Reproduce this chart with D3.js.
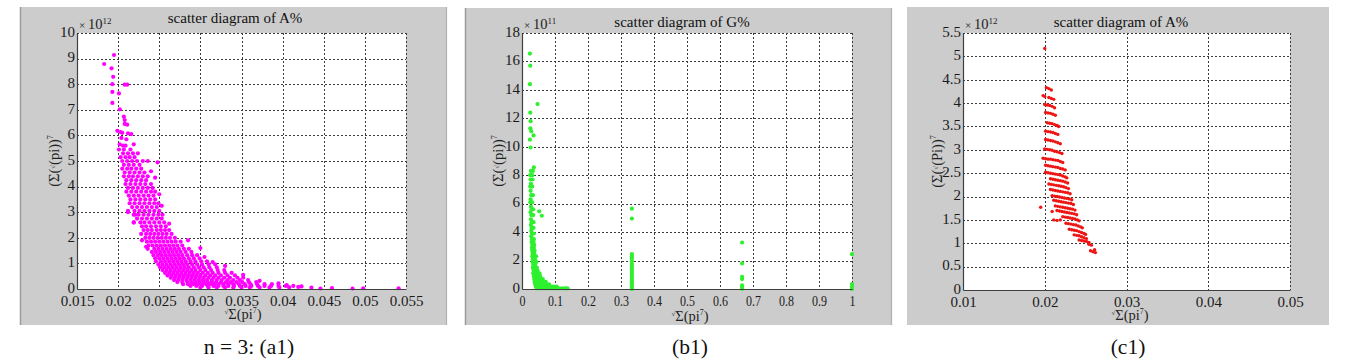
<!DOCTYPE html>
<html><head><meta charset="utf-8">
<script src="https://cdn.jsdelivr.net/npm/d3@7"></script>
<style>
body{margin:0;background:#fff}
svg{display:block}
svg text{font-family:"Liberation Serif","Times New Roman","DejaVu Serif",serif !important}
</style>
</head><body>
<svg id="c" width="1361" height="364"></svg>
<script>
// ---------------- DATA ----------------
// Panel (a1): scatter diagram of A%  (y in units of 10^12)
const a1Title = "scatter diagram of A%";
const a1XTicks = [0.015,0.02,0.025,0.03,0.035,0.04,0.045,0.05,0.055];
const a1XLabels = ["0.015","0.02","0.025","0.03","0.035","0.04","0.045","0.05","0.055"];
const a1YTicks = [0,1,2,3,4,5,6,7,8,9,10];
const a1YLabels = ["0","1","2","3","4","5","6","7","8","9","10"];
const a1Exp = "12";
const a1Extra = [
 [0.0183,8.79],[0.0195,9.14],[0.0192,8.62],[0.0194,8.29],[0.0193,8.0],[0.0208,7.98],[0.0211,7.98],
 [0.0193,7.7],[0.0201,7.64],[0.0193,7.27],[0.0202,7.02],[0.0207,6.73],[0.0208,6.6],[0.0208,6.45],
 [0.0211,6.42],[0.0199,6.18],[0.0203,6.13],[0.0205,6.1],[0.0212,6.08],[0.0216,6.05],[0.0204,5.9],
 [0.0210,5.85],[0.0202,5.65],[0.0206,5.6],[0.0209,5.6],[0.0219,5.65],
 [0.0212,3.0],[0.0219,2.6],[0.0234,1.65],[0.0229,1.9],[0.0262,2.55],[0.0285,1.9],[0.0305,1.25],
 [0.0248,4.95],[0.0240,4.6],[0.0245,4.35],[0.0250,3.7],[0.0253,3.25],[0.0221,2.9],
 [0.0300,1.6],[0.0315,1.05],[0.0330,0.9],[0.0352,0.55],[0.0372,0.32],[0.0395,0.22],[0.0405,0.15],
 [0.0419,0.08],[0.0423,0.10],[0.0435,0.05],[0.0446,0.02],[0.0460,0.04],[0.0485,0.02],[0.0498,0.03],[0.0541,0.03]
];
// rows: [y, x1, x2, ...]
const a1Rows = [
 [5.45,0.0201,0.0207,0.0215],
 [5.3,0.0206,0.0212,0.0218,0.0224],
 [5.15,0.0203,0.0209,0.0214,0.0220],
 [5.0,0.0205,0.0211,0.0217,0.0223,0.0230,0.0236],
 [4.85,0.0207,0.0213,0.0219,0.0226],
 [4.7,0.0205,0.0211,0.0216,0.0222,0.0228],
 [4.55,0.0208,0.0214,0.0220,0.0226,0.0232],
 [4.4,0.0207,0.0213,0.0218,0.0224,0.0230,0.0236],
 [4.25,0.0210,0.0216,0.0222,0.0228,0.0234],
 [4.1,0.0209,0.0215,0.0221,0.0227,0.0233,0.0240],
 [3.95,0.0212,0.0218,0.0224,0.0230,0.0236,0.0242],
 [3.8,0.0210,0.0216,0.0222,0.0228,0.0234,0.0240,0.0245],
 [3.65,0.0213,0.0219,0.0225,0.0231,0.0237,0.0243],
 [3.5,0.0215,0.0221,0.0227,0.0233,0.0239,0.0245],
 [3.35,0.0214,0.0220,0.0226,0.0232,0.0238,0.0244,0.0249],
 [3.2,0.0217,0.0223,0.0229,0.0235,0.0241,0.0247],
 [3.05,0.0212,0.0220,0.0226,0.0232,0.0238,0.0244,0.0250],
 [2.9,0.0219,0.0225,0.0231,0.0237,0.0243,0.0249,0.0254],
 [2.75,0.0223,0.0229,0.0235,0.0241,0.0247,0.0253],
 [2.6,0.0219,0.0227,0.0232,0.0238,0.0244,0.0250,0.0256],
 [2.45,0.0229,0.0234,0.0240,0.0246,0.0252,0.0258],
 [2.3,0.0231,0.0236,0.0241,0.0247,0.0252,0.0257,0.0262],
 [2.15,0.0228,0.0234,0.0239,0.0244,0.0249,0.0254,0.0259,0.0265],
 [2.0,0.0233,0.0238,0.0243,0.0248,0.0253,0.0258,0.0263,0.0269],
 [1.85,0.0235,0.0240,0.0245,0.0250,0.0255,0.0260,0.0265,0.0270,0.0276],
 [1.7,0.0237,0.0242,0.0247,0.0252,0.0257,0.0262,0.0267,0.0272,0.0278],
 [1.57,0.0236,0.0244,0.0249,0.0254,0.0259,0.0264,0.0269,0.0274,0.0280,0.0286],
 [1.45,0.0241,0.0246,0.0251,0.0256,0.0261,0.0266,0.0271,0.0276,0.0282,0.0289],
 [1.32,0.0243,0.0248,0.0253,0.0258,0.0263,0.0268,0.0273,0.0278,0.0284,0.0290,0.0296],
 [1.2,0.0245,0.0250,0.0255,0.0260,0.0265,0.0270,0.0275,0.0280,0.0286,0.0292,0.0299],
 [1.08,0.0246,0.0252,0.0257,0.0262,0.0267,0.0272,0.0277,0.0282,0.0288,0.0294,0.0301,0.0308],
 [0.96,0.0249,0.0254,0.0259,0.0264,0.0269,0.0274,0.0279,0.0284,0.0290,0.0296,0.0302,0.0310,0.0318],
 [0.85,0.0251,0.0256,0.0261,0.0266,0.0271,0.0276,0.0281,0.0286,0.0292,0.0298,0.0304,0.0311,0.0320],
 [0.74,0.0254,0.0259,0.0264,0.0269,0.0274,0.0279,0.0284,0.0289,0.0294,0.0300,0.0306,0.0313,0.0321,0.0329],
 [0.63,0.0257,0.0262,0.0267,0.0272,0.0277,0.0282,0.0287,0.0292,0.0297,0.0303,0.0309,0.0315,0.0322,0.0330,0.0338],
 [0.53,0.0260,0.0265,0.0270,0.0275,0.0280,0.0285,0.0290,0.0295,0.0300,0.0306,0.0312,0.0318,0.0325,0.0333,0.0342],
 [0.44,0.0264,0.0269,0.0274,0.0279,0.0284,0.0289,0.0294,0.0299,0.0304,0.0310,0.0316,0.0322,0.0329,0.0336,0.0345,0.0352],
 [0.35,0.0268,0.0273,0.0278,0.0283,0.0288,0.0293,0.0298,0.0303,0.0308,0.0314,0.0320,0.0326,0.0333,0.0340,0.0348,0.0358],
 [0.27,0.0272,0.0278,0.0284,0.0289,0.0294,0.0299,0.0304,0.0309,0.0314,0.0319,0.0325,0.0331,0.0337,0.0344,0.0351,0.0359,0.0368],
 [0.19,0.0279,0.0285,0.0291,0.0297,0.0302,0.0307,0.0312,0.0317,0.0322,0.0328,0.0334,0.0340,0.0347,0.0354,0.0361,0.0369,0.0378,0.0387],
 [0.12,0.0288,0.0295,0.0302,0.0309,0.0316,0.0322,0.0328,0.0334,0.0341,0.0348,0.0355,0.0362,0.0370,0.0378,0.0386,0.0395,0.0404,0.0413],
 [0.06,0.0300,0.0310,0.0320,0.0330,0.0340,0.0350,0.0360,0.0372,0.0384,0.0396,0.0408]
];

// Panel (b1): scatter diagram of G%  (y in units of 10^11)
const b1Title = "scatter diagram of G%";
const b1XTicks = [0,0.1,0.2,0.3,0.4,0.5,0.6,0.7,0.8,0.9,1];
const b1XLabels = ["0","0.1","0.2","0.3","0.4","0.5","0.6","0.7","0.8","0.9","1"];
const b1YTicks = [0,2,4,6,8,10,12,14,16,18];
const b1YLabels = ["0","2","4","6","8","10","12","14","16","18"];
const b1Exp = "11";
const b1Extra = [
 [0.024,16.55],[0.025,15.7],[0.024,14.4],[0.047,13.0],[0.025,12.4],[0.026,11.8],[0.025,11.3],
 [0.028,11.1],[0.035,10.8],[0.024,10.5],[0.026,9.95],[0.036,8.55],[0.052,5.46],[0.060,5.15],[0.050,1.0],
 [0.333,5.65],[0.333,4.95],[0.333,2.45],[0.333,2.3],[0.333,2.15],[0.333,1.95],[0.333,1.75],[0.333,1.6],
 [0.333,1.45],[0.333,1.3],[0.333,1.15],[0.333,1.0],[0.333,0.85],[0.333,0.7],[0.333,0.55],[0.333,0.4],
 [0.333,0.25],[0.333,0.1],[0.333,0.0],
 [0.667,3.27],[0.667,1.8],[0.667,0.85],[0.667,0.7],[0.667,0.25],[0.667,0.1],[0.667,0.0],
 [1,2.45],[1,0.35],[1,0.15],[1,0.0]
];
const b1Rows = [
 [8.3,0.027,0.033],[8.0,0.025,0.031],[7.7,0.026,0.032],[7.4,0.027],[7.2,0.025,0.031],[6.9,0.026],
 [6.6,0.028,0.033],[6.3,0.026],[6.1,0.025,0.031],[5.8,0.027],[5.6,0.029,0.034],[5.4,0.026],
 [5.2,0.028,0.034],[4.9,0.027],[4.7,0.029,0.035],[4.5,0.027],[4.3,0.029,0.035],[4.1,0.028],
 [3.9,0.030,0.036],[3.7,0.028],[3.5,0.030,0.036],[3.3,0.029,0.035],[3.1,0.031,0.037],[2.9,0.030,0.036],
 [2.7,0.031,0.038],[2.5,0.032,0.037],[2.3,0.031,0.038,0.043],[2.1,0.033,0.039],[1.9,0.032,0.038,0.044],
 [1.7,0.034,0.040],[1.5,0.033,0.039,0.045],[1.3,0.035,0.041,0.047],[1.1,0.034,0.040,0.046,0.053],
 [0.9,0.036,0.042,0.048,0.055],[0.7,0.037,0.043,0.049,0.056,0.063],
 [0.5,0.038,0.044,0.050,0.057,0.064,0.072],
 [0.32,0.040,0.046,0.052,0.059,0.066,0.074,0.082],
 [0.17,0.042,0.048,0.055,0.062,0.070,0.078,0.087,0.096,0.105],
 [0.05,0.045,0.052,0.060,0.068,0.077,0.086,0.095,0.104,0.113,0.122,0.131,0.138]
];

// Panel (c1): scatter diagram of A%  (y in units of 10^12)
const c1Title = "scatter diagram of A%";
const c1XTicks = [0.01,0.02,0.03,0.04,0.05];
const c1XLabels = ["0.01","0.02","0.03","0.04","0.05"];
const c1YTicks = [0,0.5,1,1.5,2,2.5,3,3.5,4,4.5,5,5.5];
const c1YLabels = ["0","0.5","1","1.5","2","2.5","3","3.5","4","4.5","5","5.5"];
const c1Exp = "12";
const c1Points = [
 [0.0200,5.17],[0.0195,1.77],[0.0209,1.68],
 [0.0202,4.33],[0.0205,4.31],[0.0208,4.28],
 [0.0198,4.16],[0.0200,4.14],[0.0205,4.12],[0.0208,4.1],[0.0211,4.08],
 [0.0200,3.97],[0.0203,3.96],[0.0206,3.95],[0.0209,3.93],[0.0212,3.9],
 [0.0201,3.8],[0.0204,3.79],[0.0207,3.78],[0.0210,3.76],[0.0213,3.74],
 [0.0203,3.58],[0.0206,3.57],[0.0209,3.56],[0.0212,3.54],[0.0215,3.52],[0.0217,3.5],
 [0.0201,3.4],[0.0204,3.39],[0.0207,3.38],[0.0210,3.37],[0.0213,3.35],[0.0216,3.33],
 [0.0201,3.22],[0.0204,3.21],[0.0207,3.2],[0.0210,3.19],[0.0213,3.17],[0.0216,3.15],[0.0219,3.13],
 [0.0200,3.02],[0.0203,3.01],[0.0206,3.0],[0.0209,2.99],[0.0212,2.97],[0.0215,2.96],[0.0218,2.94],[0.0221,2.92],
 [0.0198,2.82],[0.0201,2.81],[0.0204,2.8],[0.0207,2.8],[0.0210,2.79],[0.0213,2.78],[0.0216,2.77],[0.0219,2.75],[0.0222,2.73],
 [0.0201,2.67],[0.0204,2.66],[0.0207,2.65],[0.0210,2.64],[0.0213,2.63],[0.0216,2.62],[0.0219,2.6],[0.0222,2.59],[0.0225,2.57],
 [0.0201,2.52],[0.0204,2.51],[0.0207,2.5],[0.0210,2.49],[0.0213,2.48],[0.0216,2.47],[0.0219,2.46],[0.0222,2.44],[0.0225,2.42],[0.0227,2.4],
 [0.0207,2.38],[0.0210,2.37],[0.0213,2.36],[0.0216,2.35],[0.0219,2.34],[0.0222,2.33],[0.0225,2.31],[0.0228,2.29],
 [0.0205,2.27],[0.0208,2.26],[0.0211,2.25],[0.0214,2.24],[0.0217,2.23],[0.0220,2.22],[0.0223,2.21],[0.0226,2.19],[0.0229,2.17],
 [0.0207,2.15],[0.0210,2.14],[0.0213,2.13],[0.0216,2.12],[0.0219,2.11],[0.0222,2.1],[0.0225,2.09],[0.0228,2.08],[0.0231,2.06],
 [0.0209,2.02],[0.0212,2.01],[0.0215,2.0],[0.0218,1.99],[0.0221,1.98],[0.0224,1.97],[0.0227,1.96],[0.0230,1.95],[0.0233,1.93],
 [0.0211,1.92],[0.0214,1.91],[0.0217,1.9],[0.0220,1.89],[0.0223,1.88],[0.0226,1.87],[0.0229,1.86],[0.0232,1.85],[0.0235,1.83],
 [0.0213,1.8],[0.0216,1.79],[0.0219,1.78],[0.0222,1.77],[0.0225,1.76],[0.0228,1.75],[0.0231,1.74],[0.0234,1.73],[0.0237,1.71],
 [0.0215,1.7],[0.0218,1.69],[0.0221,1.68],[0.0224,1.67],[0.0227,1.66],[0.0230,1.65],[0.0233,1.64],[0.0236,1.63],[0.0239,1.61],
 [0.0211,1.5],[0.0215,1.49],[0.0219,1.5],[0.0222,1.57],[0.0225,1.56],[0.0228,1.55],[0.0231,1.54],[0.0234,1.53],[0.0237,1.52],[0.0240,1.5],[0.0242,1.48],
 [0.0226,1.43],[0.0229,1.42],[0.0232,1.41],[0.0235,1.4],[0.0238,1.39],[0.0241,1.37],[0.0244,1.35],[0.0246,1.33],
 [0.0230,1.3],[0.0233,1.29],[0.0236,1.28],[0.0239,1.27],[0.0242,1.25],[0.0245,1.23],[0.0248,1.21],[0.0250,1.19],
 [0.0236,1.18],[0.0239,1.17],[0.0242,1.16],[0.0245,1.14],[0.0248,1.12],[0.0251,1.1],
 [0.0242,1.07],[0.0245,1.06],[0.0248,1.05],[0.0251,1.04],[0.0254,1.02],
 [0.0254,0.98],[0.0257,0.96],
 [0.0256,0.84],[0.0259,0.82],[0.0261,0.86],[0.0262,0.8]
];

const captions = ["n = 3: (a1)", "(b1)", "(c1)"];

// ---------------- DRAWING ----------------
const svg = d3.select("#c");
const flatRows = rows => rows.flatMap(r => r.slice(1).map(v => [v, r[0]]));

function txt(sel, size) {
  return sel.style("font-family", "'Liberation Serif', 'DejaVu Serif', serif").style("font-size", size + "px");
}

function drawPanel(p) {
  const g = svg.append("g");
  const [bl, bt, br, bb] = p.bg;
  g.append("rect").attr("x", bl).attr("y", bt).attr("width", br - bl).attr("height", bb - bt).attr("fill", "#cccccc");
  if (p.edges) {
    g.append("line").attr("x1", bl + 0.5).attr("x2", bl + 0.5).attr("y1", bt).attr("y2", bb).attr("stroke", "#9a9a9a").attr("stroke-width", 1.5);
    g.append("line").attr("x1", br - 0.5).attr("x2", br - 0.5).attr("y1", bt).attr("y2", bb).attr("stroke", "#b0b0b0").attr("stroke-width", 1.2);
  }
  const [pl, pt, pr, pb] = p.plot;
  const x = d3.scaleLinear().domain([p.xTicks[0], p.xTicks[p.xTicks.length - 1]]).range([pl, pr]);
  const y = d3.scaleLinear().domain([p.yTicks[0], p.yTicks[p.yTicks.length - 1]]).range([pb, pt]);
  g.append("rect").attr("x", pl).attr("y", pt).attr("width", pr - pl).attr("height", pb - pt).attr("fill", "#fff");

  g.append("g").selectAll("line").data(p.xTicks.slice(1)).join("line")
    .attr("x1", d => Math.round(x(d)) + 0.5).attr("x2", d => Math.round(x(d)) + 0.5)
    .attr("y1", pt).attr("y2", pb)
    .attr("stroke", "#3a3a3a").attr("stroke-width", 1).attr("stroke-dasharray", "2,2");
  g.append("g").selectAll("line").data(p.yTicks.slice(1)).join("line")
    .attr("y1", d => Math.round(y(d)) + 0.5).attr("y2", d => Math.round(y(d)) + 0.5)
    .attr("x1", pl).attr("x2", pr)
    .attr("stroke", "#3a3a3a").attr("stroke-width", 1).attr("stroke-dasharray", "2,2");

  g.append("g").selectAll("circle").data(p.points).join("circle")
    .attr("cx", d => x(d[0])).attr("cy", d => y(d[1])).attr("r", p.r).attr("fill", p.color);

  const xa = g.append("g").attr("transform", `translate(0,${pb})`)
    .call(d3.axisBottom(x).tickValues(p.xTicks).tickFormat((d, i) => p.xLabels[i]).tickSize(0).tickPadding(6));
  const ya = g.append("g").attr("transform", `translate(${pl},0)`)
    .call(d3.axisLeft(y).tickValues(p.yTicks).tickFormat((d, i) => p.yLabels[i]).tickSize(0).tickPadding(2));
  [xa, ya].forEach(a => {
    a.attr("font-family", null).attr("font-size", null);
    a.select(".domain").attr("stroke", "#404040").attr("stroke-width", 1.2);
    txt(a.selectAll("text"), 15).attr("fill", "#1a1a1a");
  });
  ya.selectAll("text").attr("dy", "0.22em");
  if (p.xCondense) xa.selectAll("text").attr("transform", `scale(${p.xCondense},1)`);

  // title
  txt(g.append("text").attr("x", p.titlePos[0]).attr("y", p.titlePos[1]).attr("text-anchor", "middle"), 15)
    .attr("fill", "#111").text(p.title);
  // exponent
  const ex = txt(g.append("text").attr("x", pl + 2).attr("y", pt - 4), 14.5).attr("fill", "#222");
  ex.append("tspan").style("font-size", "11px").text("× ");
  ex.append("tspan").text("10");
  ex.append("tspan").style("font-size", "9px").attr("dy", -5).text(p.exp);

  // y label
  const yl = txt(g.append("text").attr("transform", `translate(${p.yLabelX},${(pt + pb) / 2}) rotate(-90)`)
    .attr("text-anchor", "middle"), 14.5).attr("fill", "#222");
  yl.append("tspan").text("(Σ(");
  yl.append("tspan").style("font-size", "7px").attr("dy", -4).text("√");
  yl.append("tspan").attr("dy", 4).text("(" + p.yVar + "))");
  yl.append("tspan").style("font-size", "8px").attr("dy", -6).text("7");

  // x label
  const xl = txt(g.append("text").attr("x", p.xLabelPos[0]).attr("y", p.xLabelPos[1]).attr("text-anchor", "middle"), 14.5)
    .attr("fill", "#222");
  xl.append("tspan").style("font-size", "7px").attr("dy", -5).text("√");
  xl.append("tspan").attr("dy", 5).text("Σ(pi");
  xl.append("tspan").style("font-size", "8px").attr("dy", -6).text("7");
  xl.append("tspan").attr("dy", 6).text(")");

  // caption
  txt(svg.append("text").attr("x", p.captionX).attr("y", 354).attr("text-anchor", "middle"), 21.5)
    .attr("fill", "#111").text(p.caption);
}

drawPanel({
  bg: [20, 7, 447, 325], edges: true, plot: [77, 33, 406, 289],
  xTicks: a1XTicks, xLabels: a1XLabels, yTicks: a1YTicks, yLabels: a1YLabels,
  points: a1Extra.concat(flatRows(a1Rows)), r: 2.1, color: "#ff00ff",
  title: a1Title, titlePos: [235, 23], exp: a1Exp, yVar: "pi", yLabelX: 59,
  xLabelPos: [243, 319], caption: captions[0], captionX: 249
});
drawPanel({
  bg: [465, 8, 892, 325], edges: true, plot: [522, 33, 852, 289],
  xTicks: b1XTicks, xLabels: b1XLabels, yTicks: b1YTicks, yLabels: b1YLabels,
  points: b1Extra.concat(flatRows(b1Rows)), r: 2.1, color: "#2ef02e", xCondense: 0.8,
  title: b1Title, titlePos: [682, 27], exp: b1Exp, yVar: "pi", yLabelX: 503,
  xLabelPos: [690, 321], caption: captions[1], captionX: 690
});
drawPanel({
  bg: [907, 7, 1329, 325], edges: false, plot: [963, 33, 1290, 290],
  xTicks: c1XTicks, xLabels: c1XLabels, yTicks: c1YTicks, yLabels: c1YLabels,
  points: c1Points, r: 1.7, color: "#ee1515",
  title: c1Title, titlePos: [1121, 27], exp: c1Exp, yVar: "Pi", yLabelX: 942,
  xLabelPos: [1130, 320], caption: captions[2], captionX: 1128
});
</script></body></html>
